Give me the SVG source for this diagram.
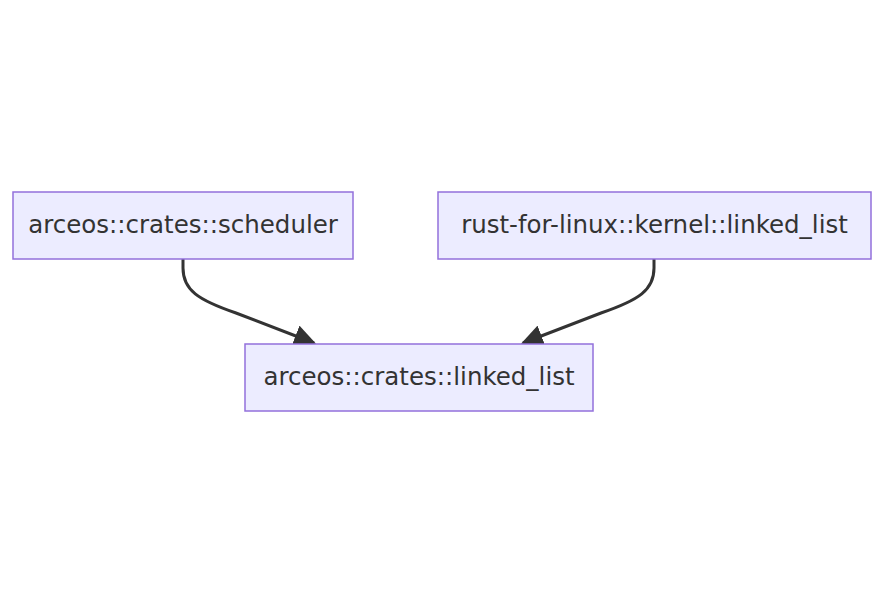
<svg xmlns="http://www.w3.org/2000/svg" width="885" height="603" viewBox="0 0 885 603">
<style>
.node rect{fill:#ECECFF;stroke:#9370DB;stroke-width:1.5px}
.node text{font-family:"DejaVu Sans","Open Sans",sans-serif;font-size:24.5px;fill:#333333;text-anchor:middle}
.edge{fill:none;stroke:#333333;stroke-width:3px}
</style>
<defs>
<marker id="arrow" viewBox="0 0 10 10" refX="9" refY="5" markerUnits="userSpaceOnUse" markerWidth="22" markerHeight="22" orient="auto">
<path d="M0,0 L10,5 L0,10 z" fill="#333333"/>
</marker>
</defs>
<rect width="885" height="603" fill="#ffffff"/>
<g id="connectors">
<path class="edge" d="M183,259 L183,268 C183,290 198,300 236,313 L314,343" marker-end="url(#arrow)"/>
<path class="edge" d="M654,259 L654,268 C654,290 639,300 601,313 L523,343" marker-end="url(#arrow)"/>
</g>
<g id="node-scheduler" class="node">
<rect x="13" y="192" width="340" height="67"/>
<text x="183" y="233">arceos::crates::scheduler</text>
</g>
<g id="node-rfl-linked-list" class="node">
<rect x="438" y="192" width="433" height="67"/>
<text x="654.5" y="233">rust-for-linux::kernel::linked_list</text>
</g>
<g id="node-arceos-linked-list" class="node">
<rect x="245" y="344" width="348" height="67"/>
<text x="419" y="385">arceos::crates::linked_list</text>
</g>
</svg>
